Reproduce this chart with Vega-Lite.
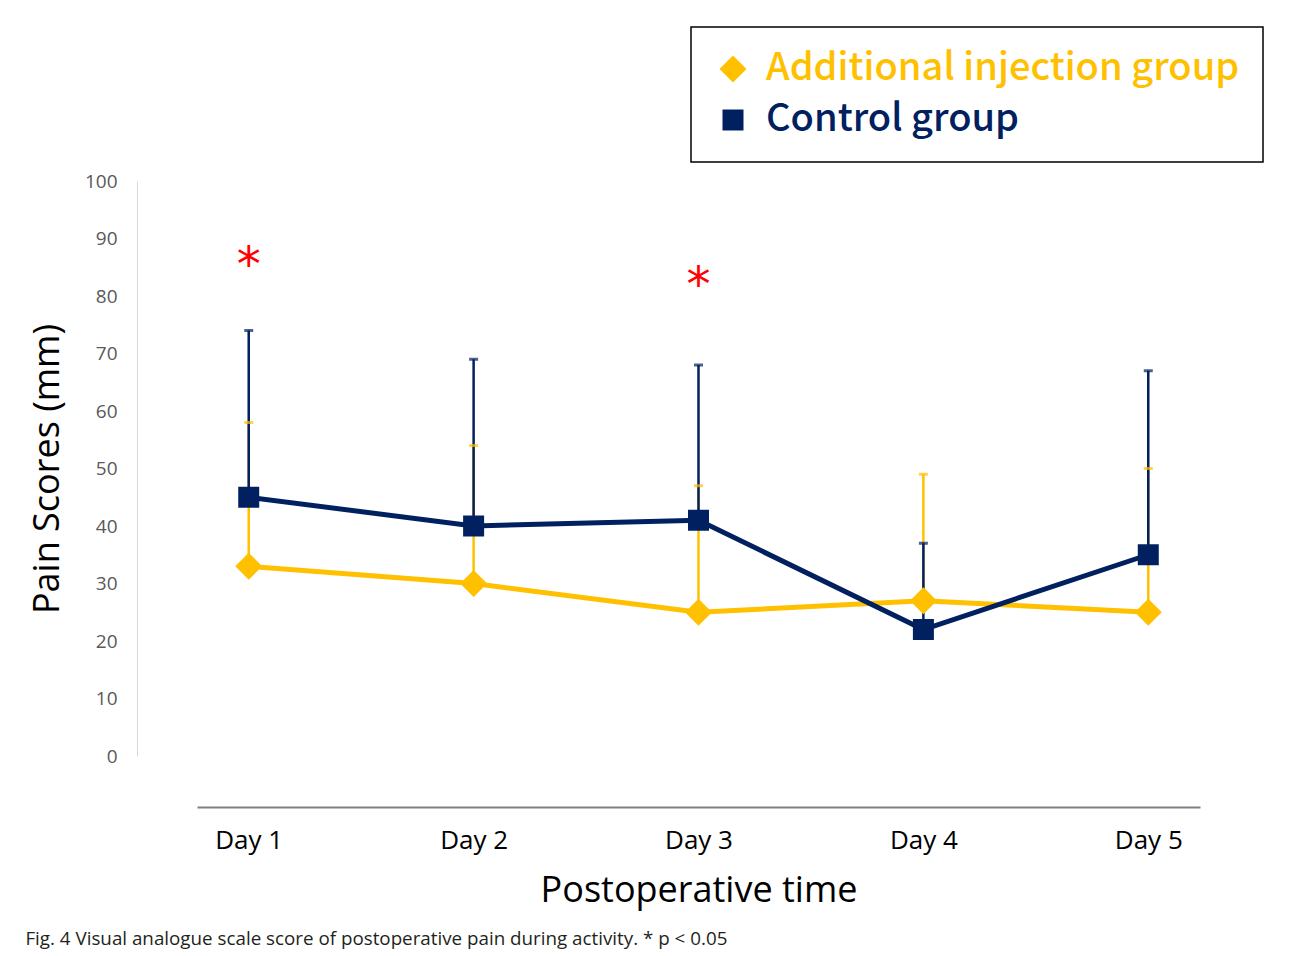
{
  "$schema": "https://vega.github.io/schema/vega-lite/v6.json",
  "autosize": "none",
  "width": 1003,
  "height": 575,
  "padding": {"left": 197, "top": 181, "right": 90, "bottom": 200},
  "background": "white",
  "config": {"view": {"stroke": null}},
  "title": {
    "text": "Fig. 4 Visual analogue scale score of postoperative pain during activity. * p < 0.05",
    "orient": "bottom",
    "anchor": "start",
    "frame": "bounds",
    "font": "Open Sans",
    "fontSize": 18.8,
    "fontWeight": "normal",
    "color": "#231f20",
    "offset": 22,
    "dx": -4
  },
  "datasets": {
    "scores": [
      {"group": "Additional injection group", "day": "Day 1", "mean": 33, "upper": 58},
      {"group": "Additional injection group", "day": "Day 2", "mean": 30, "upper": 54},
      {"group": "Additional injection group", "day": "Day 3", "mean": 25, "upper": 47},
      {"group": "Additional injection group", "day": "Day 4", "mean": 27, "upper": 49},
      {"group": "Additional injection group", "day": "Day 5", "mean": 25, "upper": 50},
      {"group": "Control group", "day": "Day 1", "mean": 45, "upper": 74},
      {"group": "Control group", "day": "Day 2", "mean": 40, "upper": 69},
      {"group": "Control group", "day": "Day 3", "mean": 41, "upper": 68},
      {"group": "Control group", "day": "Day 4", "mean": 22, "upper": 37},
      {"group": "Control group", "day": "Day 5", "mean": 35, "upper": 67}
    ],
    "signif": [
      {"day": "Day 1", "y": 85, "label": "*"},
      {"day": "Day 3", "y": 81.5, "label": "*"}
    ]
  },
  "encoding": {
    "x": {
      "field": "day",
      "type": "ordinal",
      "scale": {"type": "point", "padding": 0.23},
      "axis": {
        "title": "Postoperative time",
        "labelAngle": 0,
        "offset": 51,
        "domainColor": "#7f7f7f",
        "domainWidth": 2,
        "ticks": false,
        "labelFont": "Open Sans",
        "labelFontSize": 26,
        "labelColor": "#000000",
        "labelPadding": 20,
        "titleFont": "Open Sans",
        "titleFontSize": 36,
        "titleFontWeight": "normal",
        "titleColor": "#000000",
        "titlePadding": 20
      }
    }
  },
  "layer": [
    {
      "data": {"name": "scores"},
      "mark": {"type": "rule", "strokeWidth": 2.5},
      "encoding": {
        "y": {
          "field": "mean",
          "type": "quantitative",
          "scale": {"domain": [0, 100], "nice": false},
          "axis": {
            "title": "Pain Scores (mm)",
            "values": [0, 10, 20, 30, 40, 50, 60, 70, 80, 90, 100],
            "offset": 60,
            "grid": false,
            "ticks": false,
            "domainColor": "#d9d9d9",
            "domainWidth": 1,
            "labelFont": "Open Sans",
            "labelFontSize": 19,
            "labelColor": "#595959",
            "labelPadding": 20,
            "titleFont": "Open Sans",
            "titleFontSize": 36,
            "titleFontWeight": "normal",
            "titleColor": "#000000",
            "titlePadding": 18
          }
        },
        "y2": {"field": "upper"},
        "color": {
          "field": "group",
          "type": "nominal",
          "scale": {"domain": ["Additional injection group", "Control group"], "range": ["#FFC000", "#002060"]}
        }
      }
    },
    {
      "data": {"name": "scores"},
      "mark": {"type": "tick", "orient": "horizontal", "size": 9, "thickness": 3},
      "encoding": {
        "y": {"field": "upper", "type": "quantitative"},
        "color": {"field": "group", "type": "nominal"}
      }
    },
    {
      "data": {"name": "scores"},
      "mark": {"type": "line", "strokeWidth": 5},
      "encoding": {
        "y": {"field": "mean", "type": "quantitative"},
        "color": {"field": "group", "type": "nominal"}
      }
    },
    {
      "data": {"name": "scores"},
      "mark": {"type": "point", "filled": true, "opacity": 1},
      "encoding": {
        "y": {"field": "mean", "type": "quantitative"},
        "color": {
          "field": "group",
          "type": "nominal",
          "legend": {
            "title": null,
            "orient": "none",
            "legendX": 494,
            "legendY": -154,
            "padding": 23,
            "strokeColor": "#000000",
            "symbolSize": 1700,
            "symbolStrokeWidth": 0,
            "symbolOpacity": 1,
            "labelFont": "Noto Sans CJK JP",
            "labelFontSize": 38,
            "labelFontWeight": 500,
            "labelLimit": 800,
            "labelOffset": 14,
            "rowPadding": 13,
            "encode": {
              "labels": {"update": {"fill": {"signal": "datum.value === 'Control group' ? '#002060' : '#FFC000'"}}},
              "legend": {"update": {"strokeWidth": {"value": 1.5}}}
            }
          }
        },
        "shape": {
          "field": "group",
          "type": "nominal",
          "scale": {"domain": ["Additional injection group", "Control group"], "range": ["diamond", "square"]}
        },
        "size": {
          "field": "group",
          "type": "nominal",
          "scale": {"domain": ["Additional injection group", "Control group"], "range": [729, 441]},
          "legend": null
        }
      }
    },
    {
      "data": {"name": "signif"},
      "mark": {"type": "text", "color": "#FF0000", "fontSize": 48, "font": "DejaVu Sans", "baseline": "middle"},
      "encoding": {
        "y": {"field": "y", "type": "quantitative"},
        "text": {"field": "label"}
      }
    }
  ]
}
